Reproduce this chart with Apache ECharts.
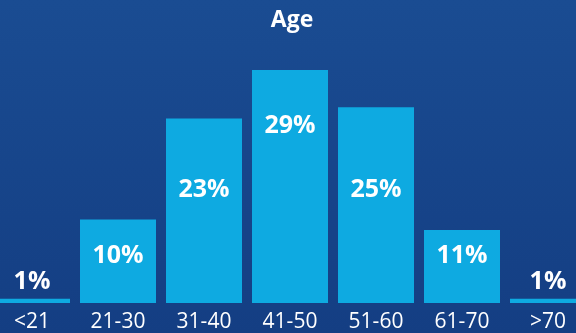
<!DOCTYPE html>
<html>
<head>
<meta charset="utf-8">
<script src="https://cdn.jsdelivr.net/npm/echarts@6/dist/echarts.min.js"></script>
<style>
html,body{margin:0;padding:0;background:#17468c;overflow:hidden;}
#chart{width:602px;height:333px;margin-left:-11px;}
</style>
</head>
<body>
<div id="chart"></div>
<script>
// Data
const categories = ['<21', '21-30', '31-40', '41-50', '51-60', '61-70', '>70'];
const shareLabels = [1, 10, 23, 29, 25, 11, 1];           // percentages printed on the bars
const barHeights = [0.53, 10.4, 22.96, 29.0, 24.36, 9.09, 0.53]; // bar heights as drawn in the picture
const chartTitle = 'Age';

// Styles (label placement per bar)
const labelPlacement = [
  { position: 'top', distance: 4 },
  { position: 'insideTop', distance: 24 },
  { position: 'insideTop', distance: 59 },
  { position: 'insideTop', distance: 43 },
  { position: 'insideTop', distance: 70 },
  { position: 'insideTop', distance: 13 },
  { position: 'top', distance: 4 }
];

const FONT = '"Open Sans", "Noto Sans", sans-serif';

const seriesData = barHeights.map((v, i) => ({
  value: v,
  label: {
    show: true,
    position: labelPlacement[i].position,
    distance: labelPlacement[i].distance,
    formatter: shareLabels[i] + '%'
  }
}));

const chart = echarts.init(document.getElementById('chart'), null, { renderer: 'canvas' });
chart.setOption({
  backgroundColor: {
    type: 'linear', x: 0, y: 0, x2: 0, y2: 1,
    colorStops: [
      { offset: 0, color: '#1a4c92' },
      { offset: 1, color: '#143e83' }
    ]
  },
  title: {
    text: chartTitle,
    left: 298,
    textAlign: 'center',
    top: 4,
    textStyle: { color: '#ffffff', fontFamily: FONT, fontWeight: 'bold', fontSize: 23 }
  },
  grid: { left: 0, right: 0, top: 62, bottom: 28, containLabel: false },
  xAxis: {
    type: 'category',
    data: categories,
    axisLine: { show: false },
    axisTick: { show: false },
    axisLabel: {
      color: '#ffffff',
      fontFamily: FONT,
      fontSize: 21,
      margin: 9,
      interval: 0
    }
  },
  yAxis: {
    type: 'value',
    min: 0,
    max: 30,
    show: false,
    splitLine: { show: false }
  },
  series: [{
    type: 'bar',
    data: seriesData,
    barWidth: 76,
    itemStyle: { color: '#0eaae1' },
    label: {
      color: '#ffffff',
      fontFamily: FONT,
      fontWeight: 'bold',
      fontSize: 25
    },
    animation: false
  }],
  animation: false
});
</script>
</body>
</html>
